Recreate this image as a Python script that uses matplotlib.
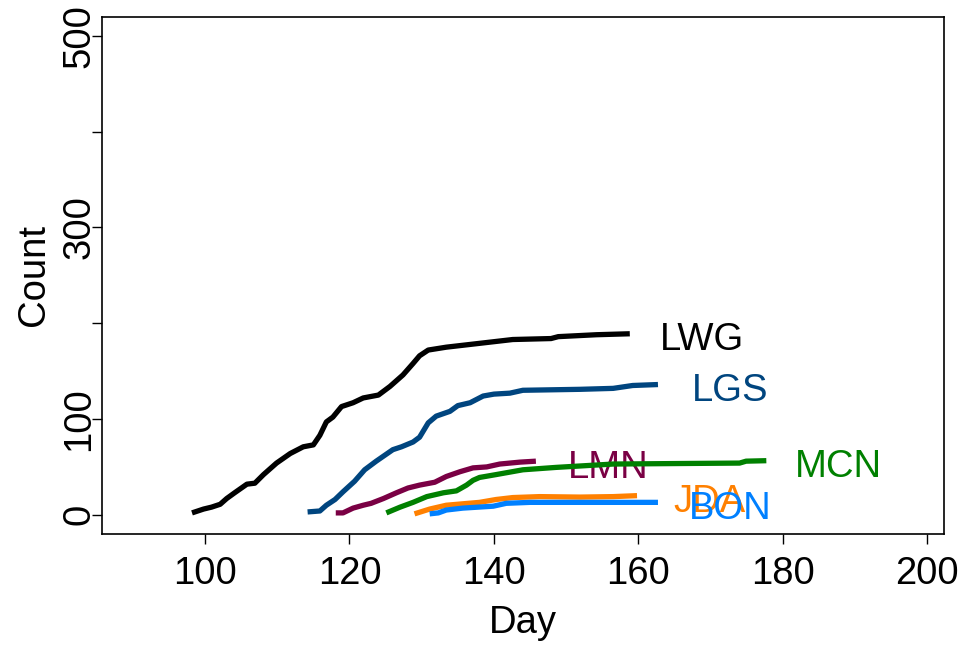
import matplotlib
matplotlib.use("Agg")
import matplotlib.pyplot as plt

plt.rcParams['font.family'] = ['Liberation Sans', 'DejaVu Sans']

# cumulative counts by day at each site
lwg_day = [98.2, 99.8, 100.9, 102.1, 103.0, 104.1, 105.8, 106.9, 108.1, 109.9, 111.8, 113.6,
           115.0, 115.9, 116.8, 117.7, 118.9, 120.5, 121.9, 124.0, 125.6, 127.4, 128.8, 129.7,
           130.9, 133.4, 138.0, 142.6, 147.9, 148.9, 154.2, 158.8]
lwg_cnt = [2, 6, 8, 11, 17, 23, 32, 33, 42, 54, 64, 71,
           73, 83, 97, 102, 113, 117, 122, 125, 134, 146, 158, 166,
           172, 175, 179, 183, 184, 186, 188, 189]

lgs_day = [114.2, 115.9, 116.8, 118.0, 119.1, 120.7, 122.1, 123.7, 126.0, 127.2, 128.8, 129.7,
           130.9, 132.0, 133.9, 135.0, 136.7, 138.5, 140.0, 142.2, 144.0, 151.9, 156.5, 159.2, 162.7]
lgs_cnt = [3, 4, 10, 16, 24, 35, 47, 56, 68, 71, 76, 81,
           96, 103, 108, 114, 117, 124, 126, 127, 130, 131, 132, 135, 136]

lmn_day = [118.1, 119.1, 120.5, 121.9, 123.0, 124.7, 126.5, 128.1, 129.7, 131.8, 133.4, 135.3,
           137.1, 139.0, 140.8, 143.6, 145.8]
lmn_cnt = [2, 2, 7, 10, 12, 17, 23, 28, 31, 34, 40, 45, 49, 50, 53, 55, 56]

mcn_day = [125.1, 127.0, 128.8, 130.7, 133.0, 134.8, 136.2, 137.1, 138.0, 140.3, 144.0, 148.6,
           156.5, 165.0, 174.0, 174.9, 177.7]
mcn_cnt = [2, 8, 13, 19, 23, 25, 31, 36, 39, 42, 47, 49.5, 53, 53.5, 54, 56, 56.5]

jda_day = [129.0, 131.1, 133.4, 138.0, 140.3, 142.6, 146.3, 151.9, 156.5, 159.8]
jda_cnt = [1, 6, 10, 13, 16, 18, 19, 18.5, 19, 20]

bon_day = [131.1, 132.3, 133.4, 135.7, 139.9, 141.7, 145.0, 162.7]
bon_cnt = [1, 2, 5, 7, 9, 12, 13, 13]

sites = ['LWG', 'LGS', 'LMN', 'MCN', 'JDA', 'BON']
days = [lwg_day, lgs_day, lmn_day, mcn_day, jda_day, bon_day]
counts = [lwg_cnt, lgs_cnt, lmn_cnt, mcn_cnt, jda_cnt, bon_cnt]
colors = ['#000000', '#00457f', '#7a0044', '#008000', '#ff8000', '#0080ff']

fs = 27.5

fig = plt.figure(figsize=(9.64, 6.47), dpi=100)
ax = fig.add_axes([0.1055, 0.1747, 0.9793 - 0.1055, 0.9742 - 0.1747])

for i in range(len(sites)):
    ax.plot(days[i], counts[i], color=colors[i], lw=3.8,
            solid_capstyle='butt', solid_joinstyle='round', zorder=2 + i)
    # site name sits 10 days past the end of its line
    ax.text(days[i][-1] + 10, counts[i][-1] - 7, sites[i], color=colors[i],
            fontsize=fs, ha='center', va='center', zorder=2 + i)

ax.set_xlim(85.7, 202.3)
ax.set_ylim(-20, 520)
ax.set_xticks([100, 120, 140, 160, 180, 200])
ax.set_yticks([0, 100, 200, 300, 400, 500])
ax.set_yticklabels(['0', '100', '', '300', '', '500'], rotation=90, va='center')
ax.tick_params(axis='both', direction='out', length=7.2, width=1.0, labelsize=fs)
ax.tick_params(axis='x', pad=9)
ax.tick_params(axis='y', pad=-4)
for s in ax.spines.values():
    s.set_linewidth(1.2)

ax.set_xlabel('Day', fontsize=fs, labelpad=9)
ax.set_ylabel('Count', fontsize=fs, labelpad=7)

fig.savefig('out.png', dpi=100)
